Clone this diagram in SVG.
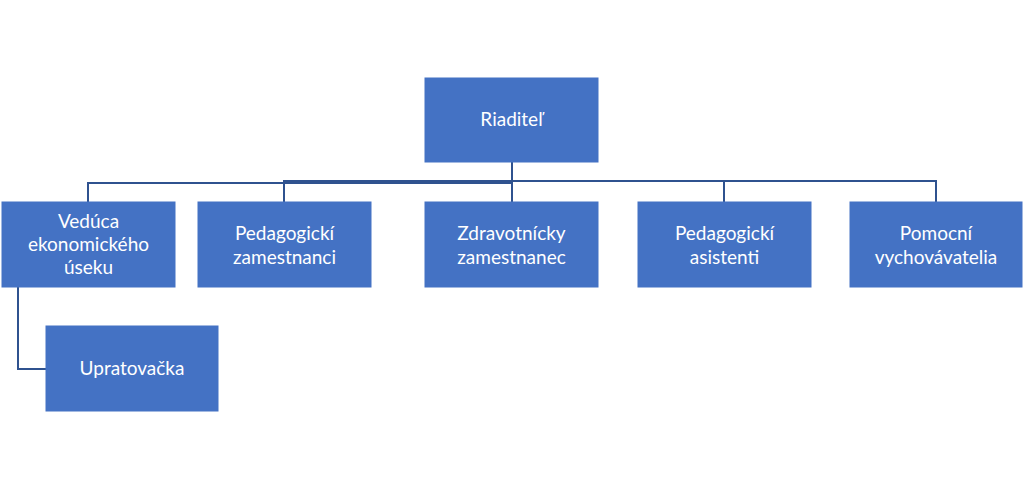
<svg xmlns="http://www.w3.org/2000/svg" width="1024" height="489" viewBox="0 0 1024 489">
<style>
.box{fill:#4472C4;stroke:#4472C4;stroke-width:1}
.t{fill:#ffffff;font-family:Lato,"Liberation Sans",sans-serif;font-size:19px;text-anchor:middle}
.c{fill:none;stroke:#2F528F;stroke-width:2}
</style>
<rect width="1024" height="489" fill="#ffffff"/>
<g id="connectors">
<path class="c" d="M512 162 V181 H936 V202"/>
<path class="c" d="M512 181 V202"/>
<path class="c" d="M512 181 H724 V202"/>
<path class="c" d="M512 181 H284 V202"/>
<path class="c" d="M512 181 V183 H88 V202"/>
<path class="c" d="M18 287 V369 H46"/>
</g>
<g id="riaditel"><rect class="box" x="425" y="78" width="173" height="84"/><text class="t" x="511.5" y="126">Riaditeľ</text></g>
<g id="veduca"><rect class="box" x="2" y="202" width="173" height="85"/><text class="t" x="88.5" y="228">Vedúca</text><text class="t" x="88.5" y="251">ekonomického</text><text class="t" x="88.5" y="274">úseku</text></g>
<g id="pedagogicki"><rect class="box" x="198" y="202" width="173" height="85"/><text class="t" x="284.5" y="240">Pedagogickí</text><text class="t" x="284.5" y="264">zamestnanci</text></g>
<g id="zdravotnicky"><rect class="box" x="425" y="202" width="173" height="85"/><text class="t" x="511.5" y="240">Zdravotnícky</text><text class="t" x="511.5" y="264">zamestnanec</text></g>
<g id="asistenti"><rect class="box" x="638" y="202" width="173" height="85"/><text class="t" x="724.5" y="240">Pedagogickí</text><text class="t" x="724.5" y="264">asistenti</text></g>
<g id="pomocni"><rect class="box" x="850" y="202" width="172" height="85"/><text class="t" x="936" y="240">Pomocní</text><text class="t" x="936" y="264">vychovávatelia</text></g>
<g id="upratovacka"><rect class="box" x="46" y="326" width="172" height="85"/><text class="t" x="132" y="375">Upratovačka</text></g>
</svg>
